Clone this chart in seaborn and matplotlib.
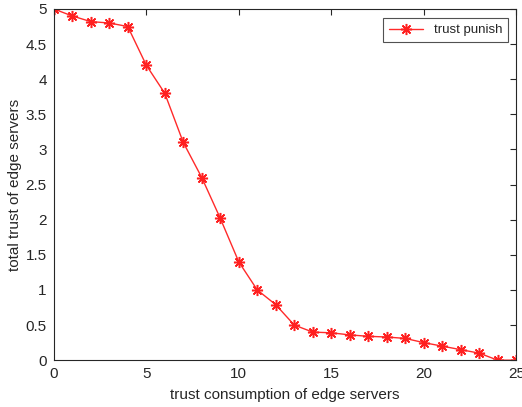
import pandas as pd
import matplotlib
matplotlib.use('Agg')
import matplotlib.pyplot as plt
import seaborn as sns

# Values
consumption = list(range(26))
total_trust = [5.0, 4.9, 4.82, 4.8, 4.75, 4.2, 3.8, 3.1, 2.6, 2.02, 1.4, 1.0, 0.79,
               0.5, 0.4, 0.39, 0.36, 0.34, 0.33, 0.31, 0.25, 0.2, 0.15, 0.1, 0.0, 0.0]
x_ticks = [0, 5, 10, 15, 20, 25]
y_ticks = [0, 0.5, 1, 1.5, 2, 2.5, 3, 3.5, 4, 4.5, 5]
y_tick_labels = ['0', '0.5', '1', '1.5', '2', '2.5', '3', '3.5', '4', '4.5', '5']

df = pd.DataFrame({'consumption': consumption, 'trust': total_trust})

sns.set_style('white')
plt.rcParams['font.family'] = ['Liberation Sans', 'DejaVu Sans']

fig = plt.figure(figsize=(5.22, 4.07), dpi=100)
ax = fig.add_axes([0.103, 0.115, 0.886, 0.863])

# MATLAB-like asterisk marker
sns.lineplot(data=df, x='consumption', y='trust', ax=ax, color='#ff2a2a',
             marker=(8, 2, 0), markersize=8, markeredgecolor='#ff2020',
             markeredgewidth=1.1, linewidth=1.0, label='trust punish')

ax.set_xlim(0, 25)
ax.set_ylim(0, 5)
ax.set_xticks(x_ticks)
ax.set_yticks(y_ticks)
ax.set_yticklabels(y_tick_labels)
ax.tick_params(direction='in', top=True, right=True, length=4, width=0.8,
               labelsize=11, colors='#262626', pad=5)
for s in ax.spines.values():
    s.set_color('#262626')
    s.set_linewidth(0.8)

ax.set_xlabel('trust consumption of edge servers', fontsize=11, labelpad=5)
ax.set_ylabel('total trust of edge servers', fontsize=11, labelpad=3)

leg = ax.legend(loc='upper right', fontsize=9.5, frameon=True, fancybox=False,
                edgecolor='#262626', handlelength=2.6, borderpad=0.45,
                borderaxespad=0, bbox_to_anchor=(0.983, 0.974))
leg.get_frame().set_linewidth(0.8)

fig.savefig('out.png', dpi=100)
